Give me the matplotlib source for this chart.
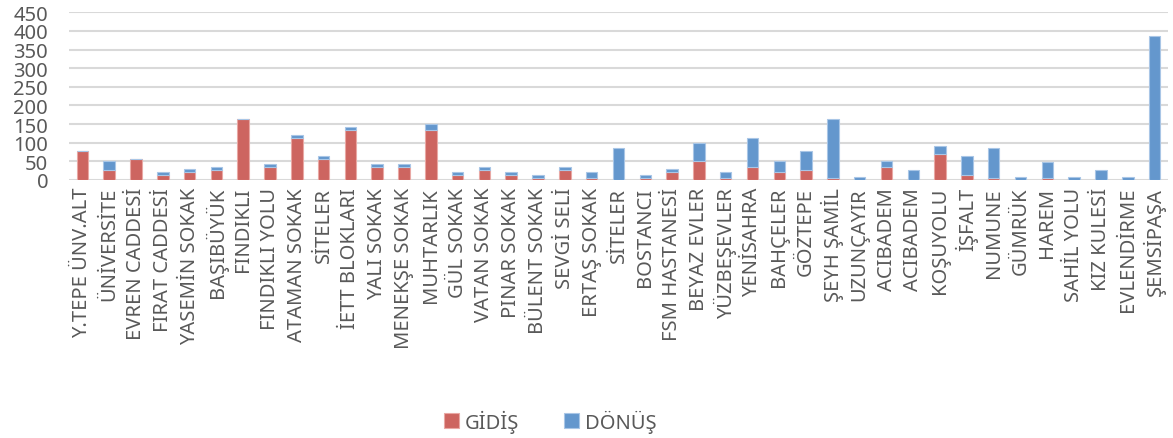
import matplotlib
matplotlib.use("Agg")
import matplotlib.pyplot as plt
import numpy as np

categories = [
    "Y.TEPE ÜNV.ALT", "ÜNİVERSİTE", "EVREN CADDESİ", "FIRAT CADDESİ", "YASEMİN SOKAK",
    "BAŞIBÜYÜK", "FINDIKLI", "FINDIKLI YOLU", "ATAMAN SOKAK", "SİTELER",
    "İETT BLOKLARI", "YALI SOKAK", "MENEKŞE SOKAK", "MUHTARLIK", "GÜL SOKAK",
    "VATAN SOKAK", "PINAR SOKAK", "BÜLENT SOKAK", "SEVGİ SELİ", "ERTAŞ SOKAK",
    "SİTELER", "BOSTANCI", "FSM HASTANESİ", "BEYAZ EVLER", "YÜZBEŞEVLER",
    "YENİSAHRA", "BAHÇELER", "GÖZTEPE", "ŞEYH ŞAMİL", "UZUNÇAYIR",
    "ACIBADEM", "ACIBADEM", "KOŞUYOLU", "İŞFALT", "NUMUNE",
    "GÜMRÜK", "HAREM", "SAHİL YOLU", "KIZ KULESİ", "EVLENDİRME",
    "ŞEMSİPAŞA",
]

gidis = [
    78, 28, 56, 14, 21,
    28, 164, 36, 114, 57,
    135, 36, 36, 135, 14,
    28, 14, 6, 28, 6,
    0, 6, 21, 50, 6,
    36, 21, 28, 6, 0,
    36, 0, 71, 14, 6,
    0, 6, 0, 0, 0,
    0,
]

donus = [
    0, 22, 0, 7, 8,
    7, 0, 7, 7, 7,
    7, 7, 7, 15, 7,
    7, 7, 7, 7, 15,
    86, 7, 8, 50, 15,
    78, 29, 50, 158, 7,
    14, 28, 21, 50, 79,
    7, 43, 7, 28, 7,
    386,
]

series_names = ["GİDİŞ", "DÖNÜŞ"]
y_ticks = [0, 50, 100, 150, 200, 250, 300, 350, 400, 450]

red = "#CD6560"
blue = "#6497CD"
text_col = "#595959"
grid_col = "#D9D9D9"

plt.rcParams["font.family"] = ["Noto Sans", "DejaVu Sans"]

fig = plt.figure(figsize=(11.73, 4.39), dpi=100)
ax = fig.add_axes([0.0588, 0.5877, 0.9369, 0.382])

x = np.arange(len(categories))
w = 0.43
ax.bar(x, gidis, width=w, color=red, edgecolor="#E9A8A4", linewidth=0.8,
       label=series_names[0], zorder=3)
ax.bar(x, donus, width=w, bottom=gidis, color=blue, edgecolor="#A9C6E6",
       linewidth=0.8, label=series_names[1], zorder=3)

ax.set_xlim(-0.5, len(categories) - 0.5)
ax.set_ylim(0, 450)
ax.set_yticks(y_ticks)
ax.set_yticklabels([str(v) for v in y_ticks])
ax.yaxis.grid(True, color=grid_col, linewidth=1.5, zorder=0)
ax.set_axisbelow(True)
for s in ax.spines.values():
    s.set_visible(False)

ax.set_xticks(x)
ax.set_xticklabels(categories, rotation=90, ha="center", va="top")
ax.tick_params(axis="both", length=0, labelsize=14.5, colors=text_col)
ax.tick_params(axis="y", pad=15)
ax.tick_params(axis="x", pad=5)

handles, labels = ax.get_legend_handles_labels()
leg = fig.legend(handles, labels, loc="center", bbox_to_anchor=(0.469, 0.038),
                 ncol=2, frameon=False, fontsize=14.5, handlelength=0.75,
                 handleheight=0.75, handletextpad=0.3, columnspacing=2.2)
for t in leg.get_texts():
    t.set_color(text_col)

fig.savefig("out.png", dpi=100)
